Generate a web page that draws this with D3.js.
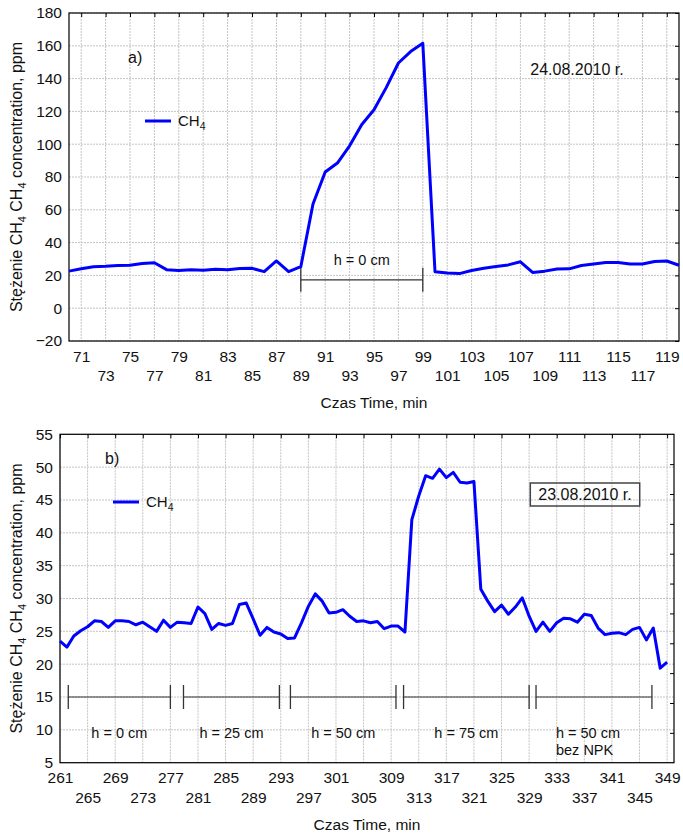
<!DOCTYPE html>
<html>
<head>
<meta charset="utf-8">
<title>CH4</title>
<style>
  body { margin: 0; background: #fff; }
  svg { display: block; font-family: "Liberation Sans", Arial, sans-serif; }
  .grid line { stroke: #c4c4c4; stroke-dasharray: 2,1; }
  .tick text { font-size: 15.5px; fill: #111; }
</style>
</head>
<body>
<div id="chart"></div>
<script src="https://d3js.org/d3.v7.min.js"></script>
<script>
// panel a) 24.08.2010
var minutesA = [70,71,72,73,74,75,76,77,78,79,80,81,82,83,84,85,86,87,88,89,90,91,92,93,94,95,96,97,98,99,100,101,102,103,104,105,106,107,108,109,110,111,112,113,114,115,116,117,118,119,120];
var ch4A = [22.6,24.0,25.3,25.6,26.1,26.2,27.2,27.7,23.5,23.0,23.4,23.2,23.7,23.4,24.2,24.3,22.3,28.8,22.3,25.3,
            63.5,83.0,88.5,99.0,112.0,121.0,134.5,149.5,156.5,161.5,
            22.2,21.4,21.1,23.0,24.4,25.4,26.4,28.3,21.8,22.6,23.9,24.0,26.0,27.0,27.8,27.8,27.0,26.9,28.5,28.8,26.2];
var ticksA = [71,73,75,77,79,81,83,85,87,89,91,93,95,97,99,101,103,105,107,109,111,113,115,117,119];
var yTicksA = [-20,0,20,40,60,80,100,120,140,160,180];
var phasesA = [{from: 89, to: 99, label: "h = 0 cm"}];

// panel b) 23.08.2010
var minutesB = [261,262,263,264,265,266,267,268,269,270,271,272,273,274,275,276,277,278,279,280,281,282,283,284,285,286,287,288,289,290,
                291,292,293,294,295,296,297,298,299,300,301,302,303,304,305,306,307,308,309,310,311,312,313,314,315,316,317,318,319,320,
                321,322,323,324,325,326,327,328,329,330,331,332,333,334,335,336,337,338,339,340,341,342,343,344,345,346,347,348,349];
var ch4B = [23.5,22.6,24.3,25.1,25.7,26.6,26.5,25.6,26.6,26.6,26.5,26.0,26.4,25.7,25.0,26.7,25.6,26.4,26.3,26.2,
            28.7,27.7,25.3,26.2,25.9,26.2,29.1,29.3,26.9,24.4,25.6,24.9,24.6,23.9,24.0,26.3,28.8,30.7,29.6,27.8,
            27.9,28.3,27.3,26.5,26.6,26.3,26.5,25.4,25.8,25.8,24.9,42.0,45.6,48.7,48.3,49.7,48.4,49.2,47.7,47.6,
            47.8,31.4,29.6,28.0,29.0,27.6,28.7,30.1,27.3,25.0,26.4,25.0,26.3,27.0,26.9,26.4,27.6,27.4,25.5,24.5,
            24.7,24.8,24.5,25.3,25.6,23.7,25.5,19.4,20.3];
var ticksB = [261,265,269,273,277,281,285,289,293,297,301,305,309,313,317,321,325,329,333,337,341,345,349];
var yTicksB = [5,10,15,20,25,30,35,40,45,50,55];
var phasesB = [
  {from: 262.2, to: 277, label: "h = 0 cm"},
  {from: 278.9, to: 292.8, label: "h = 25 cm"},
  {from: 294.4, to: 309.7, label: "h = 50 cm"},
  {from: 310.8, to: 329, label: "h = 75 cm"},
  {from: 330, to: 346.8, label: "h = 50 cm", label2: "bez NPK"}
];

var svg = d3.select("#chart").append("svg")
    .attr("width", 683)
    .attr("height", 834);

function drawPanel(o) {
  var x = d3.scaleLinear().domain(o.xDomain).range([o.left, o.right]);
  var y = d3.scaleLinear().domain(o.yDomain).range([o.bottom, o.top]);
  var g = svg.append("g");

  // grid
  var grid = g.append("g").attr("class", "grid");
  grid.selectAll(".gx").data(o.xTicks).join("line")
      .attr("x1", d => x(d)).attr("x2", d => x(d))
      .attr("y1", o.top).attr("y2", o.bottom);
  grid.selectAll(".gy").data(o.yTicks).join("line")
      .attr("x1", o.left).attr("x2", o.right)
      .attr("y1", d => y(d)).attr("y2", d => y(d));

  // axes
  var xa = g.append("g").attr("transform", "translate(0," + o.bottom + ")")
      .call(d3.axisBottom(x).tickValues(o.xTicks).tickSize(0).tickPadding(9).tickFormat(d3.format("d")));
  xa.select(".domain").remove();
  xa.selectAll(".tick text").attr("dy", (d, i) => i % 2 ? "2.0em" : "0.75em");

  var ya = g.append("g").attr("transform", "translate(" + o.left + ",0)")
      .call(d3.axisLeft(y).tickValues(o.yTicks).tickSize(0).tickPadding(7));
  ya.select(".domain").remove();

  // inner ticks on top and right
  g.append("g").attr("transform", "translate(0," + o.top + ")")
      .call(d3.axisBottom(x).tickValues(o.xTicks).tickSize(4).tickFormat(""))
      .call(s => s.select(".domain").remove());
  var ry = o.rightTicks ? d3.scaleLinear().domain([0, o.rightTicks]).range([o.bottom, o.top]) : y;
  g.append("g").attr("transform", "translate(" + o.right + ",0)")
      .call(d3.axisLeft(ry).tickValues(o.rightTicks ? d3.range(1, o.rightTicks) : o.yTicks).tickSize(4).tickFormat(""))
      .call(s => s.select(".domain").remove());

  g.append("rect")
      .attr("x", o.left).attr("y", o.top)
      .attr("width", o.right - o.left).attr("height", o.bottom - o.top)
      .attr("fill", "none").attr("stroke", "#000").attr("stroke-width", 1.2);

  // phase brackets
  var ph = g.append("g");
  o.phases.forEach(function(p) {
    var yy = y(o.phaseLevel);
    ph.append("line").attr("x1", x(p.from)).attr("x2", x(p.to)).attr("y1", yy).attr("y2", yy)
        .attr("stroke", "#333").attr("stroke-width", 1.2);
    [p.from, p.to].forEach(function(v) {
      ph.append("line").attr("x1", x(v)).attr("x2", x(v)).attr("y1", yy - 12).attr("y2", yy + 12)
          .attr("stroke", "#333").attr("stroke-width", 1.3);
    });
    var mid = (x(p.from) + x(p.to)) / 2;
    if (p.label2) {
      var t = ph.append("text").attr("x", mid - 38).attr("y", yy + o.labelDy)
          .attr("font-size", 14.5).attr("fill", "#111");
      t.append("tspan").text(p.label);
      t.append("tspan").attr("x", mid - 38).attr("dy", 17).text(p.label2);
    } else {
      ph.append("text").attr("x", mid).attr("y", yy + o.labelDy)
          .attr("text-anchor", "middle").attr("font-size", 14.5).attr("fill", "#111")
          .text(p.label);
    }
  });

  // series
  var line = d3.line().x(d => x(d[0])).y(d => y(d[1]));
  g.append("path")
      .datum(d3.zip(o.minutes, o.values))
      .attr("d", line)
      .attr("fill", "none")
      .attr("stroke", "#0000ff")
      .attr("stroke-width", 3)
      .attr("stroke-linejoin", "round");

  // legend
  g.append("line").attr("x1", o.legend[0]).attr("x2", o.legend[0] + 26)
      .attr("y1", o.legend[1]).attr("y2", o.legend[1])
      .attr("stroke", "#0000ff").attr("stroke-width", 3);
  var lt = g.append("text").attr("x", o.legend[0] + 33).attr("y", o.legend[1] + 5)
      .attr("font-size", 15).attr("fill", "#111");
  lt.append("tspan").text("CH");
  lt.append("tspan").attr("font-size", 10.5).attr("dy", 4).text("4");

  // panel letter
  g.append("text").attr("x", o.letter[0]).attr("y", o.letter[1])
      .attr("font-size", 16).attr("fill", "#111").text(o.letterText);

  // date
  var dt = g.append("text").attr("x", o.date[0]).attr("y", o.date[1])
      .attr("text-anchor", "middle").attr("font-size", 16).attr("fill", "#111").text(o.dateText);
  if (o.dateBox) {
    var bb = dt.node().getBBox();
    g.append("rect").attr("x", bb.x - 8).attr("y", bb.y - 3)
        .attr("width", bb.width + 16).attr("height", bb.height + 6)
        .attr("fill", "none").attr("stroke", "#444").attr("stroke-width", 1.5);
  }

  // axis titles
  g.append("text").attr("x", (o.left + o.right) / 2).attr("y", o.bottom + 67)
      .attr("text-anchor", "middle").attr("font-size", 15.5).attr("fill", "#111")
      .text("Czas Time, min");
  var yt = g.append("text")
      .attr("transform", "translate(22," + (o.top + o.bottom) / 2 + ") rotate(-90)")
      .attr("text-anchor", "middle").attr("font-size", 16).attr("fill", "#111");
  yt.append("tspan").text("Stężenie CH");
  yt.append("tspan").attr("font-size", 11).attr("dy", 4).text("4");
  yt.append("tspan").attr("dy", -4).text("  CH");
  yt.append("tspan").attr("font-size", 11).attr("dy", 4).text("4");
  yt.append("tspan").attr("dy", -4).text(" concentration, ppm");
}

drawPanel({
  left: 69, right: 679, top: 13, bottom: 341,
  xDomain: [70, 120], yDomain: [-20, 180],
  xTicks: ticksA, yTicks: yTicksA,
  minutes: minutesA, values: ch4A,
  phases: phasesA, phaseLevel: 17.3, labelDy: -15,
  legend: [145, 121], letter: [128, 63], letterText: "a)",
  date: [577, 75], dateText: "24.08.2010 r.", dateBox: false
});

drawPanel({
  left: 60, right: 674, top: 434.3, bottom: 762.7,
  xDomain: [261, 350], yDomain: [5, 55],
  xTicks: ticksB, yTicks: yTicksB, rightTicks: 11,
  minutes: minutesB, values: ch4B,
  phases: phasesB, phaseLevel: 15, labelDy: 41,
  legend: [113, 502], letter: [105, 464], letterText: "b)",
  date: [585, 500], dateText: "23.08.2010 r.", dateBox: true
});
</script>
</body>
</html>
